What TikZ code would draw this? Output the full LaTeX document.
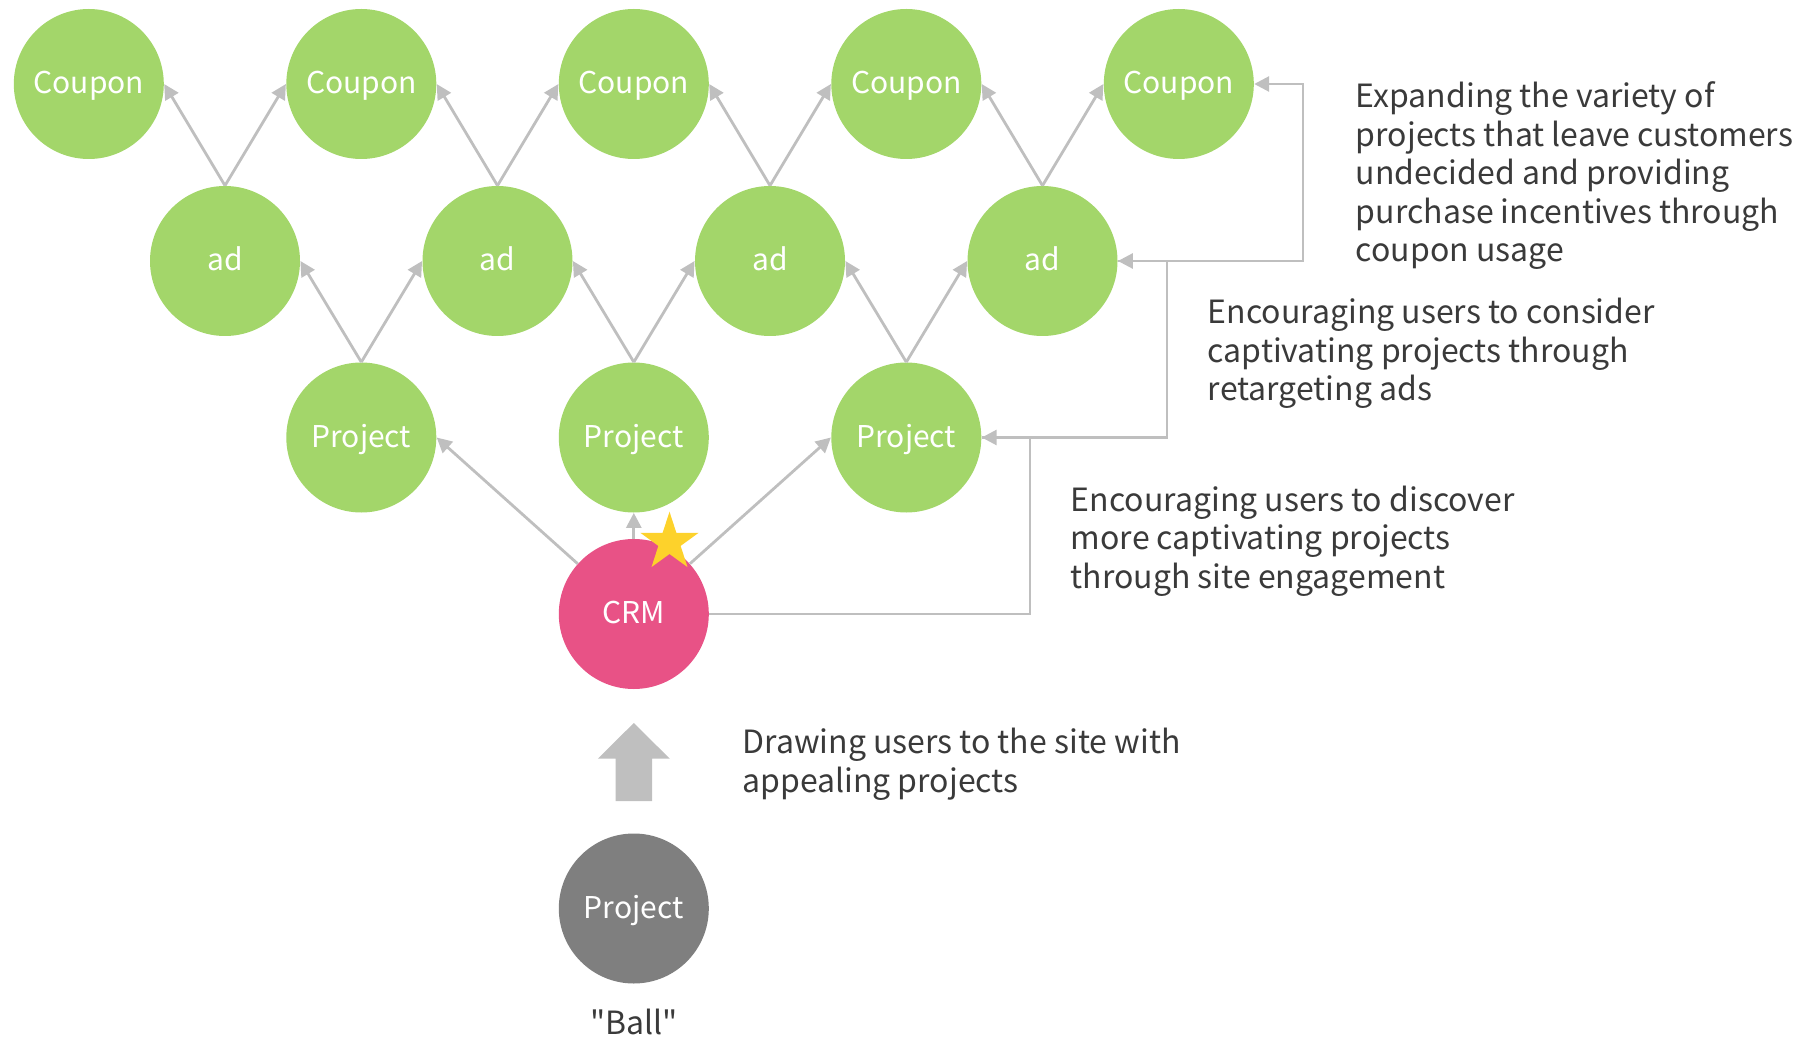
\documentclass[tikz,border=0pt]{standalone}
\usepackage{fontspec}
\setmainfont{Noto Sans CJK JP}
\newfontfamily\plainquotes{Noto Sans CJK JP}
\usetikzlibrary{arrows.meta,calc}
\definecolor{grn}{HTML}{A3D66A}
\definecolor{pnk}{HTML}{E85286}
\definecolor{dgray}{HTML}{7F7F7F}
\definecolor{lgray}{HTML}{BFBFBF}
\definecolor{txt}{HTML}{3A3A3A}
\definecolor{stary}{HTML}{FDD22B}
\begin{document}
\begin{tikzpicture}[x=0.5pt,y=-0.5pt,
  ball/.style={circle, fill=grn, minimum size=75pt, inner sep=0pt, text=white, text height=9.6pt, text depth=0pt, font=\fontsize{15}{18}\selectfont},
  conn/.style={draw=lgray, line width=1.4pt, -{Triangle[length=7.5pt,width=7.5pt]}},
  desc/.style={anchor=north west, align=left, text=txt, inner sep=0pt, font=\fontsize{16}{19.25}\selectfont}]
\useasboundingbox (0,0) rectangle (1808,1037);
% coupons
\foreach \i/\x in {1/88.8,2/361.3,3/633.8,4/906.3,5/1178.8}
  \node[ball] (c\i) at (\x,84) {Coupon};
\foreach \i/\x in {1/225,2/497.5,3/770,4/1042.5}
  \node[ball] (a\i) at (\x,261) {ad};
\foreach \i/\x in {1/361.3,2/633.8,3/906.3}
  \node[ball] (p\i) at (\x,437.5) {Project};
\node[ball, fill=pnk] (crm) at (633.8,614) {CRM};
\node[ball, fill=dgray] (ball) at (633.8,908.5) {Project};
\node[text=txt, font=\plainquotes\fontsize{16}{19.25}\selectfont] (balllbl) at (633.8,1022) {"Ball"};
% ad -> coupon
\foreach \i [evaluate=\i as \j using int(\i+1)] in {1,2,3,4}{
  \draw[conn] (a\i.north) -- (c\i.east);
  \draw[conn] (a\i.north) -- (c\j.west);
}
% project -> ad
\foreach \i [evaluate=\i as \j using int(\i+1)] in {1,2,3}{
  \draw[conn] (p\i.north) -- (a\i.east);
  \draw[conn] (p\i.north) -- (a\j.west);
}
% crm -> projects
\draw[conn] (crm) -- (p1.east);
\draw[conn] (crm.north) -- (p2.south);
\draw[conn] (crm) -- (p3.west);
% feedback loops
\coordinate (k1) at (1030,437.5);
\coordinate (k2) at (1167,261);
\coordinate (k3) at (1303,84);
\draw[conn] (crm.east) -| (k1) -- (p3.east);
\draw[conn] (p3.east) -| (k2) -- (a4.east);
\draw[conn] (a4.east) -| (k3) -- (c5.east);
% thick arrow
\fill[lgray] (633.8,723) -- (597.8,758.7) -- (615.5,758.7) -- (615.5,801) -- (652.1,801) -- (652.1,758.7) -- (669.8,758.7) -- cycle;
% star
\coordinate (st) at (669.5,542.3);
\fill[stary] ($(st)+(-90:30.6)$)
  \foreach \k in {1,...,9}{ -- ($(st)+({-90+36*\k}:{mod(\k,2)==1 ? 11.7 : 30.6})$) } -- cycle;
% descriptions
\node[desc] (t1) at (1355.5,81.5) {Expanding the variety of\\projects that leave customers\\undecided and providing\\purchase incentives through\\coupon usage};
\node[desc] (t2) at (1207.5,298) {Encouraging users to consider\\captivating projects through\\retargeting ads};
\node[desc] (t3) at (1070.5,485.5) {Encouraging users to discover\\more captivating projects\\through site engagement};
\node[desc] (t4) at (742,728) {Drawing users to the site with\\appealing projects};
\end{tikzpicture}
\end{document}
